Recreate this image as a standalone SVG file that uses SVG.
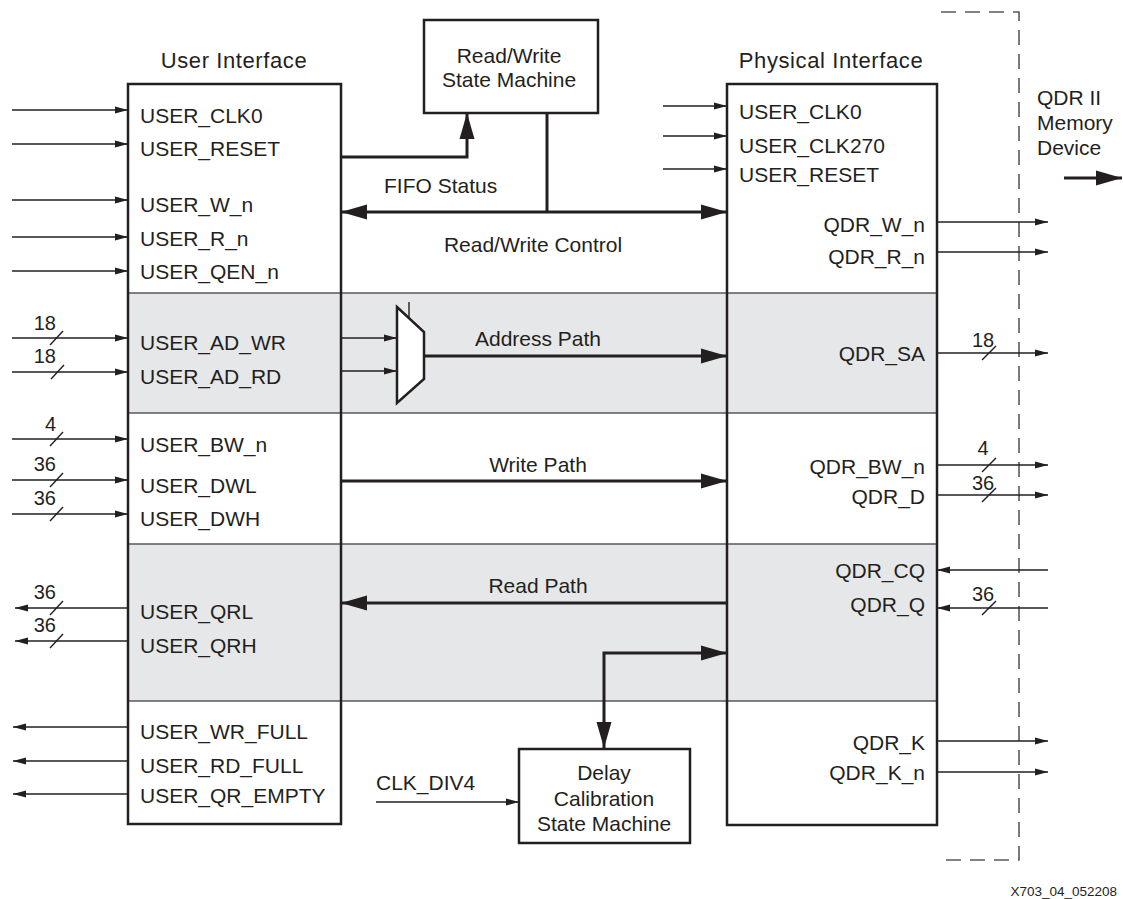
<svg xmlns="http://www.w3.org/2000/svg" width="1123" height="899" viewBox="0 0 1123 899">
<style>
text{font-family:"Liberation Sans",Arial,sans-serif;fill:#231f20}
.lb{font-size:21px}
.tt{font-size:22px;letter-spacing:0.6px}
.nb{font-size:20px}
.r{text-anchor:end}
.m{text-anchor:middle}
.box{fill:none;stroke:#231f20;stroke-width:2.5}
.thin{fill:none;stroke:#231f20;stroke-width:1.4}
.thick{fill:none;stroke:#231f20;stroke-width:3}
.band{fill:#e6e7e8}
.sep{stroke:#58595b;stroke-width:1.5}
</style>
<defs>
<marker id="sm" markerUnits="userSpaceOnUse" markerWidth="13" markerHeight="8" refX="13" refY="4" orient="auto-start-reverse"><path d="M0,0.5 L13,4 L0,7.5 z" fill="#231f20"/></marker>
<marker id="lg" markerUnits="userSpaceOnUse" markerWidth="26" markerHeight="16" refX="26" refY="8" orient="auto-start-reverse"><path d="M0,0.5 L26,8 L0,15.5 z" fill="#231f20"/></marker>
</defs>
<rect width="1123" height="899" fill="#fff"/>

<g id="bands">
<rect class="band" x="128" y="293" width="809" height="120"/>
<rect class="band" x="128" y="544" width="809" height="157"/>
<line class="sep" x1="128" y1="293" x2="937" y2="293"/>
<line class="sep" x1="128" y1="413" x2="937" y2="413"/>
<line class="sep" x1="128" y1="544" x2="937" y2="544"/>
<line class="sep" x1="128" y1="701" x2="937" y2="701"/>
</g>

<g id="user-interface">
<rect class="box" x="128" y="84" width="213" height="740"/>
<text class="tt m" x="234" y="68">User Interface</text>
<text class="lb" x="140" y="123">USER_CLK0</text>
<text class="lb" x="140" y="156">USER_RESET</text>
<text class="lb" x="140" y="212">USER_W_n</text>
<text class="lb" x="140" y="246">USER_R_n</text>
<text class="lb" x="140" y="279">USER_QEN_n</text>
<text class="lb" x="140" y="350">USER_AD_WR</text>
<text class="lb" x="140" y="384">USER_AD_RD</text>
<text class="lb" x="140" y="452">USER_BW_n</text>
<text class="lb" x="140" y="493">USER_DWL</text>
<text class="lb" x="140" y="526">USER_DWH</text>
<text class="lb" x="140" y="619">USER_QRL</text>
<text class="lb" x="140" y="653">USER_QRH</text>
<text class="lb" x="140" y="739">USER_WR_FULL</text>
<text class="lb" x="140" y="773">USER_RD_FULL</text>
<text class="lb" x="140" y="803">USER_QR_EMPTY</text>
</g>

<g id="physical-interface">
<rect class="box" x="727" y="84" width="210" height="741"/>
<text class="tt m" x="831" y="68">Physical Interface</text>
<text class="lb" x="739" y="119">USER_CLK0</text>
<text class="lb" x="739" y="153">USER_CLK270</text>
<text class="lb" x="739" y="182">USER_RESET</text>
<text class="lb r" x="925" y="232">QDR_W_n</text>
<text class="lb r" x="925" y="264">QDR_R_n</text>
<text class="lb r" x="925" y="361">QDR_SA</text>
<text class="lb r" x="925" y="474">QDR_BW_n</text>
<text class="lb r" x="925" y="504">QDR_D</text>
<text class="lb r" x="925" y="578">QDR_CQ</text>
<text class="lb r" x="925" y="612">QDR_Q</text>
<text class="lb r" x="925" y="750">QDR_K</text>
<text class="lb r" x="925" y="780">QDR_K_n</text>
</g>

<g id="rw-state-machine">
<rect class="box" x="424" y="20" width="174" height="93" fill="#fff"/>
<text class="lb m" x="509" y="63">Read/Write</text>
<text class="lb m" x="509" y="87">State Machine</text>
</g>

<g id="delay-calibration">
<rect class="box" x="519" y="749" width="171" height="94" fill="#fff"/>
<text class="lb m" x="604" y="780">Delay</text>
<text class="lb m" x="604" y="806">Calibration</text>
<text class="lb m" x="604" y="831">State Machine</text>
</g>

<g id="mux">
<path d="M397,307 L424,332 L424,379 L397,403 Z" fill="#fff" stroke="#231f20" stroke-width="2.5"/>
<line class="thin" x1="409" y1="302" x2="409" y2="318"/>
</g>

<g id="qdr-device">
<path d="M941,12 H1019 V860 H945" fill="none" stroke="#58595b" stroke-width="1.6" stroke-dasharray="15 9"/>
<text class="lb" x="1037" y="105">QDR II</text>
<text class="lb" x="1037" y="130">Memory</text>
<text class="lb" x="1037" y="155">Device</text>
</g>

<g id="connectors">
<g class="thin" marker-end="url(#sm)">
<path d="M12,110 H128"/>
<path d="M12,144 H128"/>
<path d="M12,200 H128"/>
<path d="M12,237 H128"/>
<path d="M12,271 H128"/>
<path d="M12,338 H128"/>
<path d="M12,372 H128"/>
<path d="M12,439 H128"/>
<path d="M12,480 H128"/>
<path d="M12,514 H128"/>
<path d="M128,608 H15"/>
<path d="M128,641 H15"/>
<path d="M128,727 H13"/>
<path d="M128,761 H13"/>
<path d="M128,794 H13"/>
<path d="M663,106 H727"/>
<path d="M663,136 H727"/>
<path d="M663,169 H727"/>
<path d="M937,222 H1048"/>
<path d="M937,252 H1048"/>
<path d="M937,353 H1048"/>
<path d="M937,465 H1048"/>
<path d="M937,495 H1048"/>
<path d="M1048,570 H937"/>
<path d="M1048,608 H937"/>
<path d="M937,741 H1048"/>
<path d="M937,772 H1048"/>
<path d="M341,338 H397"/>
<path d="M341,371 H397"/>
<path d="M376,802 H519"/>
</g>
<g class="thin">
<path d="M50,345 L63,331"/>
<path d="M51,379 L64,365"/>
<path d="M50,446 L63,432"/>
<path d="M50,487 L63,473"/>
<path d="M50,521 L63,507"/>
<path d="M50,615 L63,601"/>
<path d="M50,648 L63,634"/>
<path d="M982,360 L996,346"/>
<path d="M982,472 L996,458"/>
<path d="M982,502 L996,488"/>
<path d="M982,615 L996,601"/>
</g>
<g class="thick">
<path d="M341,157 H467 V113" marker-end="url(#lg)"/>
<path d="M547,113 V212"/>
<path d="M341,212 H727" marker-start="url(#lg)" marker-end="url(#lg)"/>
<path d="M424,356 H727" marker-end="url(#lg)"/>
<path d="M341,481 H727" marker-end="url(#lg)"/>
<path d="M727,603 H341" marker-end="url(#lg)"/>
<path d="M604,748 V653 H727" marker-start="url(#lg)" marker-end="url(#lg)"/>
<path d="M1064,178 H1122" marker-end="url(#lg)"/>
</g>
<text class="nb r" x="56" y="330">18</text>
<text class="nb r" x="56" y="363">18</text>
<text class="nb r" x="56" y="431">4</text>
<text class="nb r" x="56" y="471">36</text>
<text class="nb r" x="56" y="505">36</text>
<text class="nb r" x="56" y="599">36</text>
<text class="nb r" x="56" y="632">36</text>
<text class="nb m" x="983" y="347">18</text>
<text class="nb m" x="983" y="455">4</text>
<text class="nb m" x="983" y="490">36</text>
<text class="nb m" x="983" y="601">36</text>
<text class="lb" x="384" y="193">FIFO Status</text>
<text class="lb m" x="533" y="252">Read/Write Control</text>
<text class="lb m" x="538" y="346">Address Path</text>
<text class="lb m" x="538" y="472">Write Path</text>
<text class="lb m" x="538" y="593">Read Path</text>
<text class="lb" x="376" y="790">CLK_DIV4</text>
</g>
<text x="1117" y="896" text-anchor="end" style="font-size:13.5px">X703_04_052208</text>
</svg>
